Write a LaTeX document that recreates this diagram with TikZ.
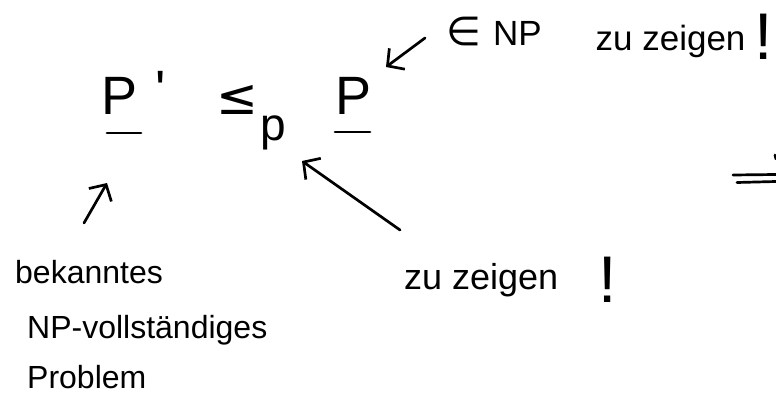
\documentclass[tikz,border=0pt]{standalone}
\usepackage{fontspec}
\setmainfont{Liberation Sans}
\newfontfamily\symfont{DejaVu Sans}
\usetikzlibrary{arrows.meta}
\begin{document}
\begin{tikzpicture}[x=1pt,y=-1pt,
  ink/.style={line width=2.7pt, line cap=round, line join=round},
  arr/.style={ink, -{Straight Barb[length=12pt,width=26pt]}},
  hw/.style={inner sep=0pt, anchor=base west, font=\fontsize{32}{36}\selectfont},
  big/.style={inner sep=0pt, anchor=base west, font=\fontsize{54}{60}\selectfont},
]
\useasboundingbox (0,0) rectangle (776,401);

% formula P' <=_p P
\node[big] (Pa) at (101,115) {P\hspace{18pt}\raisebox{6pt}{\textquotesingle}};
\draw[ink] (107,133) -- (141,133);
\node[inner sep=0pt, anchor=base, font=\symfont\fontsize{50}{50}\selectfont] (leq) at (237,114) {≤};
\node[inner sep=0pt, anchor=base, font=\fontsize{46}{46}\selectfont] (sub) at (273,140) {p};
\node[big, anchor=base] (Pb) at (354,115) {P};
\draw[ink] (335,132) -- (370,132);

% upper remark
\node[hw, font=\fontsize{35}{40}\selectfont] (np) at (446,46)
  {{\symfont\fontsize{40}{40}\selectfont ∈}\hspace{12pt}NP\hspace{54pt}\raisebox{-5pt}{zu zeigen}\hspace{9pt}\raisebox{-14pt}{\fontsize{66}{66}\selectfont !}};

% lower remark
\node[hw, font=\fontsize{36}{40}\selectfont] (zz) at (404,289)
  {zu zeigen\hspace{40pt}\raisebox{-13pt}{\fontsize{66}{66}\selectfont !}};

% known problem
\node[hw] (b1) at (15,283) {bekanntes};
\node[hw] (b2) at (27,338) {NP-vollständiges};
\node[hw] (b3) at (27,388) {Problem};

% arrows
\coordinate (t1) at (425,38);  \coordinate (h1) at (386,67);
\coordinate (t2) at (400,230); \coordinate (h2) at (302,161);
\coordinate (t3) at (84,223);  \coordinate (h3) at (107,183);
\draw[arr] (t1) -- (h1);
\draw[arr] (t2) -- (h2);
\draw[arr] (t3) -- (h3);

% cut-off implication arrow at the right edge
\draw[ink] (733,175) -- (776,174.5);
\draw[ink] (737,182.5) -- (776,181.5);
\draw[ink] (775,155) -- (776,159);
\end{tikzpicture}
\end{document}
